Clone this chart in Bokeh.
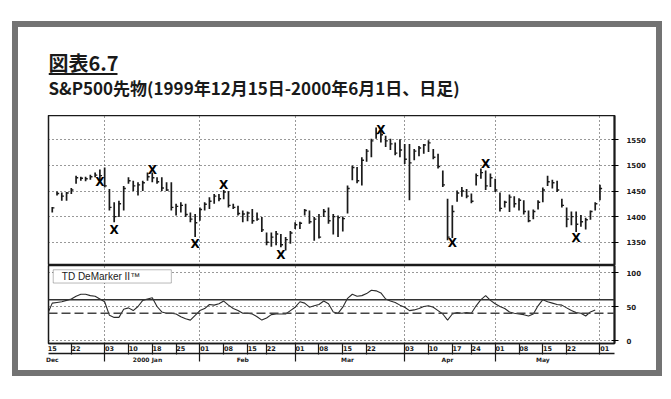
from bokeh.plotting import figure
from bokeh.models import Range1d, FixedTicker, LinearAxis, Span, BoxAnnotation, Label, Div
from bokeh.layouts import column, row
from bokeh.embed import file_html
from bokeh.resources import INLINE
from bokeh.core.properties import value

TITLE = "図表6.7"
SUBTITLE = "S&P500先物(1999年12月15日-2000年6月1日、日足)"
IND_NAME = "TD DeMarker II™"

# ---- daily bars (trading-day index from 1999-12-15) ----
bar_idx = list(range(1, 117))
bar_low = [1408, 1441, 1431, 1431, 1444, 1464, 1470, 1469, 1472, 1477, 1467, 1457, 1412, 1389, 1399, 1412,
           1464, 1450, 1441, 1450, 1470, 1467, 1464, 1450, 1450, 1412, 1402, 1408, 1399, 1389, 1360, 1392,
           1412, 1415, 1425, 1430, 1434, 1418, 1415, 1402, 1389, 1391, 1386, 1392, 1370, 1344, 1341, 1344,
           1340, 1334, 1347, 1376, 1376, 1402, 1386, 1353, 1357, 1399, 1386, 1365, 1360, 1371, 1406, 1471,
           1465, 1461, 1507, 1516, 1552, 1545, 1536, 1530, 1520, 1516, 1503, 1432, 1510, 1518, 1523, 1526,
           1512, 1494, 1458, 1354, 1358, 1429, 1439, 1436, 1426, 1461, 1474, 1452, 1458, 1448, 1410, 1418,
           1409, 1418, 1412, 1404, 1389, 1395, 1414, 1428, 1460, 1455, 1448, 1418, 1379, 1383, 1370, 1380,
           1375, 1394, 1412, 1432]
bar_high = [1419, 1449, 1447, 1448, 1456, 1480, 1478, 1478, 1482, 1486, 1492, 1496, 1454, 1428, 1431, 1460,
            1477, 1470, 1467, 1470, 1486, 1486, 1477, 1477, 1467, 1467, 1425, 1428, 1425, 1408, 1405, 1418,
            1428, 1438, 1444, 1444, 1452, 1450, 1425, 1421, 1412, 1410, 1415, 1408, 1399, 1369, 1369, 1372,
            1366, 1360, 1372, 1389, 1390, 1415, 1412, 1399, 1405, 1415, 1418, 1405, 1402, 1400, 1461, 1500,
            1497, 1516, 1532, 1552, 1574, 1571, 1558, 1552, 1545, 1551, 1542, 1542, 1532, 1538, 1542, 1549,
            1532, 1523, 1490, 1435, 1422, 1451, 1458, 1454, 1445, 1484, 1494, 1490, 1484, 1474, 1447, 1431,
            1443, 1440, 1436, 1432, 1412, 1414, 1432, 1457, 1480, 1472, 1470, 1435, 1418, 1410, 1410, 1403,
            1398, 1412, 1428, 1462]
bar_close = [1417, 1445, 1440, 1446, 1452, 1476, 1475, 1474, 1478, 1481, 1480, 1460, 1418, 1400, 1425, 1455,
             1470, 1460, 1462, 1466, 1478, 1476, 1468, 1456, 1452, 1418, 1420, 1422, 1404, 1395, 1388, 1414,
             1424, 1430, 1440, 1435, 1448, 1422, 1418, 1406, 1405, 1407, 1392, 1395, 1374, 1350, 1360, 1366,
             1345, 1355, 1368, 1384, 1387, 1412, 1390, 1395, 1360, 1410, 1392, 1400, 1398, 1396, 1455, 1496,
             1470, 1510, 1528, 1548, 1562, 1560, 1548, 1542, 1524, 1530, 1512, 1505, 1528, 1534, 1540, 1544,
             1516, 1498, 1462, 1360, 1410, 1446, 1450, 1440, 1430, 1480, 1486, 1460, 1476, 1452, 1416, 1428,
             1438, 1425, 1432, 1410, 1392, 1410, 1428, 1452, 1468, 1466, 1452, 1422, 1395, 1400, 1385, 1390,
             1394, 1410, 1425, 1455]

# ---- TD DeMarker II ----
ind_idx = list(range(0, 116))
ind_val = [39, 55, 56, 57, 59, 61, 65, 68, 68, 66, 65, 61, 57, 37, 34, 34, 46, 48, 44, 50,
           59, 61, 63, 50, 42, 40, 40, 39, 35, 32, 30, 37, 44, 47, 53, 52, 54, 58, 52, 47,
           44, 40, 40, 39, 35, 30, 33, 38, 39, 39, 39, 44, 49, 57, 55, 49, 51, 53, 58, 54,
           42, 40, 49, 62, 68, 65, 66, 69, 74, 73, 70, 61, 58, 56, 52, 49, 44, 45, 47, 50,
           51, 49, 44, 39, 30, 39, 41, 40, 41, 40, 51, 60, 66, 59, 54, 50, 47, 42, 40, 39,
           38, 36, 39, 51, 60, 57, 55, 53, 52, 48, 44, 41, 40, 36, 42, 45]

# ---- signal marks ----
mark_idx = [11, 14, 22, 31, 37, 49, 70, 85, 92, 111]
mark_price = [1467, 1373, 1492, 1347, 1462, 1325, 1570, 1349, 1502, 1358]

# ---- axes ----
price_ticks = [1350, 1400, 1450, 1500, 1550]
ind_ticks = [0, 50, 100]
UPPER_LEVEL = 60
LOWER_LEVEL = 40
date_tick_idx = [0, 5, 12, 17, 22, 27, 32, 37, 42, 46, 52, 57, 62, 67, 75, 80, 85, 89, 94, 99, 104, 109, 116]
date_tick_labels = ["15", "22", "03", "10", "18", "25", "01", "08", "15", "22", "01", "08", "15", "22",
                    "03", "10", "17", "24", "01", "08", "15", "22", "01"]
month_start_idx = [12, 32, 52, 75, 94, 116]
month_label_idx = [1, 21, 41, 63, 84, 104]
month_labels = ["Dec", "2000 Jan", "Feb", "Mar", "Apr", "May"]

# ---------------- layout constants ----------------
W_IN = 638
LB, RB = 30, 42
FRAME_W = W_IN - LB - RB
XR = (0.21, 119.05)
INK = "#1a1a1a"
FRAME_GRAY = "#737373"
GRID_DASH = "1 3"
TICK_FONT = "DejaVu Sans"


def box(w, h, color):
    return Div(text="", width=w, height=h, margin=0,
               styles={"background-color": color, "padding": "0", "margin": "0"})


# title figure (frame aligned with the chart frames below)
t = figure(width=W_IN, height=88, x_range=Range1d(0, FRAME_W), y_range=Range1d(0, 88),
           toolbar_location=None, output_backend="svg", min_border_left=LB, min_border_right=RB,
           min_border_top=0, min_border_bottom=0,
           x_axis_location=None, y_axis_location=None, outline_line_color=None)
t.grid.visible = False
t.text(x=[0], y=[53], text=[TITLE], text_font=value("Noto Sans CJK JP"), text_font_style="bold",
       text_font_size="20px", text_color=INK, text_baseline="middle")
t.segment(x0=[0], y0=[41.5], x1=[69], y1=[41.5], line_color=INK, line_width=2)
t.text(x=[0], y=[28], text=[SUBTITLE], text_font=value("Noto Sans CJK JP"), text_font_style="bold",
       text_font_size="17px", text_color=INK, text_baseline="middle")

# price figure
p = figure(width=W_IN, height=150, x_range=Range1d(*XR), y_range=Range1d(1304.5, 1597.5),
           x_axis_location=None, y_axis_location="right", toolbar_location=None,
           output_backend="svg", min_border_left=LB, min_border_right=RB,
           min_border_top=0, min_border_bottom=0)
p.outline_line_color = INK
p.outline_line_width = 1.5
p.xgrid.ticker = FixedTicker(ticks=month_start_idx)
p.ygrid.ticker = FixedTicker(ticks=price_ticks)
for g in (p.xgrid, p.ygrid):
    g.grid_line_color = "#333333"
    g.grid_line_dash = GRID_DASH
    g.grid_line_width = 1

bar_right = [i + 0.45 for i in bar_idx]
p.segment(x0=bar_idx, y0=bar_low, x1=bar_idx, y1=bar_high, line_color=INK, line_width=1.7)
p.segment(x0=bar_idx, y0=bar_close, x1=bar_right, y1=bar_close, line_color=INK, line_width=1.4)
p.text(x=mark_idx, y=mark_price, text=["X"] * len(mark_idx), text_font=value("DejaVu Sans"),
       text_font_style="bold", text_font_size="12px", text_align="center", text_baseline="middle",
       text_color="#000000")


def style_right_axis(ax, ticks):
    ax.ticker = FixedTicker(ticks=ticks)
    ax.axis_line_width = 2
    ax.axis_line_color = INK
    ax.major_tick_in = 3
    ax.major_tick_out = 4
    ax.minor_tick_out = 0
    ax.minor_tick_in = 0
    ax.major_label_standoff = 8
    ax.major_label_text_font = TICK_FONT
    ax.major_label_text_font_size = "7px"
    ax.major_label_text_font_style = "bold"
    ax.major_label_text_color = INK


style_right_axis(p.yaxis[0], price_ticks)

# indicator figure
q = figure(width=W_IN, height=105, x_range=p.x_range, y_range=Range1d(-4.4, 110.3),
           x_axis_location=None, y_axis_location="right", toolbar_location=None,
           output_backend="svg", min_border_left=LB, min_border_right=RB,
           min_border_top=0, min_border_bottom=27)
q.outline_line_color = INK
q.outline_line_width = 1.5
q.xgrid.ticker = FixedTicker(ticks=month_start_idx)
q.ygrid.ticker = FixedTicker(ticks=ind_ticks)
for g in (q.xgrid, q.ygrid):
    g.grid_line_color = "#333333"
    g.grid_line_dash = GRID_DASH
    g.grid_line_width = 1

q.add_layout(Span(location=UPPER_LEVEL, dimension="width", line_color="#333333", line_width=1.5))
q.add_layout(Span(location=LOWER_LEVEL, dimension="width", line_color="#444444", line_width=1.5,
                  line_dash="9 4"))
q.line(x=ind_idx, y=ind_val, line_color="#2a2a2a", line_width=1.1)

q.add_layout(BoxAnnotation(left=1.2, right=26.0, bottom=84.5, top=104.0, fill_color="white",
                           fill_alpha=1.0, line_color=INK, line_width=1))
q.add_layout(Label(x=3.0, y=94.0, text=IND_NAME, text_font="Liberation Sans",
                   text_font_size="10px", text_baseline="middle", text_color=INK))

style_right_axis(q.yaxis[0], ind_ticks)

date_label_pos = [i + 1 for i in date_tick_idx]
date_axis = LinearAxis(
    ticker=FixedTicker(ticks=date_label_pos, minor_ticks=date_tick_idx),
    major_label_overrides={pos: lab for pos, lab in zip(date_label_pos, date_tick_labels)},
    major_tick_out=0, major_tick_in=0, minor_tick_out=11, minor_tick_in=0,
    major_label_standoff=-9, axis_line_width=1.5, axis_line_color=INK,
    minor_tick_line_color=INK, minor_tick_line_width=1.2,
    major_label_text_font=TICK_FONT, major_label_text_font_size="6.5px",
    major_label_text_font_style="bold", major_label_text_color=INK)
q.add_layout(date_axis, "below")

month_axis = LinearAxis(
    ticker=FixedTicker(ticks=month_label_idx, minor_ticks=month_start_idx[:-1]),
    major_label_overrides={pos: lab for pos, lab in zip(month_label_idx, month_labels)},
    major_tick_out=0, major_tick_in=0, minor_tick_out=8, minor_tick_in=0,
    major_label_standoff=-6, axis_line_width=1.5, axis_line_color=INK,
    minor_tick_line_color=INK, minor_tick_line_width=1.2,
    major_label_text_font=TICK_FONT, major_label_text_font_size="6px",
    major_label_text_font_style="bold", major_label_text_color=INK)
q.add_layout(month_axis, "below")

center = column(box(W_IN, 21, "white"), box(W_IN, 6, FRAME_GRAY), t, p, q,
                box(W_IN, 6, FRAME_GRAY), box(W_IN, 23, "white"), spacing=0, margin=0)
side_l = column(box(6, 21, "white"), box(6, 355, FRAME_GRAY), box(6, 23, "white"), spacing=0, margin=0)
side_r = column(box(6, 21, "white"), box(6, 355, FRAME_GRAY), box(6, 23, "white"), spacing=0, margin=0)

layout = row(box(12, 399, "white"), side_l, center, side_r, box(9, 399, "white"), spacing=0, margin=0)

with open("out.html", "w") as f:
    f.write(file_html(layout, INLINE))
